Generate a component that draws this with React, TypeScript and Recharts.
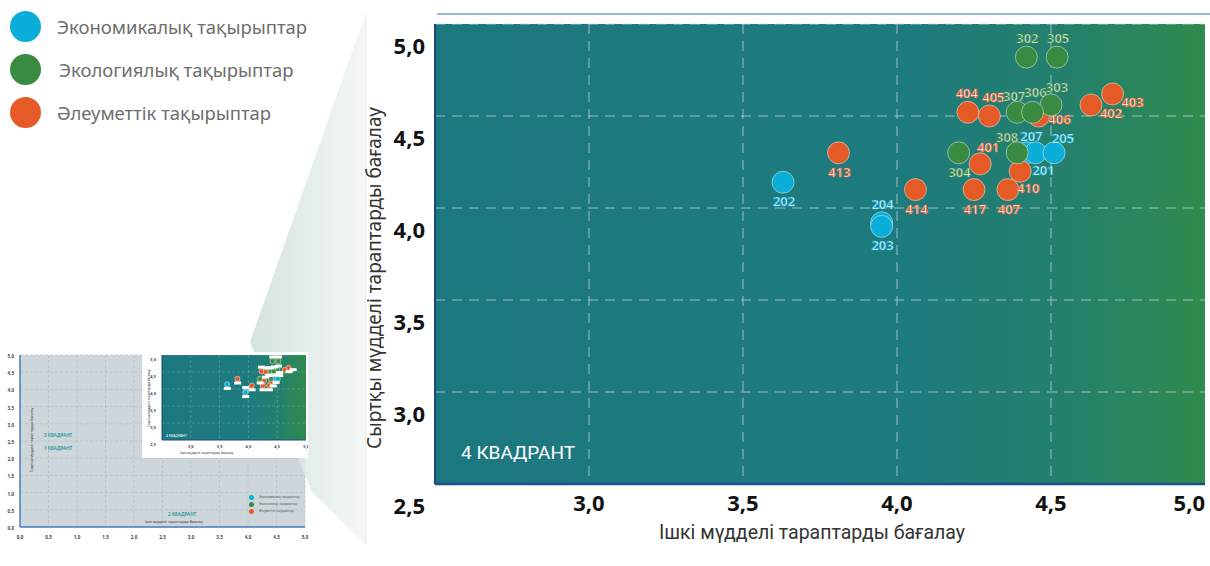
import React from "react";
import { ScatterChart, Scatter, XAxis, YAxis, CartesianGrid } from "recharts";

// Экономикалық тақырыптар
const econIds = ["202", "204", "203", "207", "201", "205"];
const econX = [3.63, 3.95, 3.95, 4.42, 4.45, 4.51];
const econY = [4.14, 3.92, 3.9, 4.3, 4.3, 4.3];

// Экологиялық тақырыптар
const ecoIds = ["302", "305", "303", "307", "306", "304", "308"];
const ecoX = [4.42, 4.52, 4.5, 4.39, 4.44, 4.2, 4.39];
const ecoY = [4.82, 4.82, 4.56, 4.52, 4.52, 4.3, 4.3];

// Әлеуметтік тақырыптар
const socIds = ["403", "402", "404", "405", "406", "413", "414", "401", "410", "417", "407"];
const socX = [4.7, 4.63, 4.23, 4.3, 4.46, 3.81, 4.06, 4.27, 4.4, 4.25, 4.36];
const socY = [4.62, 4.56, 4.52, 4.5, 4.5, 4.3, 4.1, 4.24, 4.2, 4.1, 4.1];

const seriesNames = ["Экономикалық тақырыптар", "Экологиялық тақырыптар", "Әлеуметтік тақырыптар"];
const xTicks = [3, 3.5, 4, 4.5, 5];
const yTicks = [2.5, 3, 3.5, 4, 4.5, 5];
const miniTicks = [0, 0.5, 1, 1.5, 2, 2.5, 3, 3.5, 4, 4.5, 5];

const BLUE = "#0badd9";
const GREEN = "#3a8b42";
const ORANGE = "#e55b28";

// where each point label sits around its marker
const labelSide: Record<string, string> = {
  "302": "above", "305": "above", "303": "aboveFar", "307": "aboveL", "306": "aboveHigh",
  "304": "below", "308": "aboveLeft",
  "202": "below", "204": "above", "203": "below", "207": "aboveR", "201": "belowRight", "205": "aboveRightLow",
  "403": "right", "402": "right", "404": "aboveSlightL", "405": "aboveSlightR", "406": "rightHigh",
  "413": "below", "414": "below", "401": "aboveRight", "410": "belowRight", "417": "below", "407": "below",
};
const sideOffset: Record<string, [number, number]> = {
  above: [1, -19],
  aboveSlightL: [-1, -19],
  aboveSlightR: [4, -19],
  aboveFar: [6, -18],
  aboveL: [-3, -16],
  aboveR: [5, -17],
  aboveHigh: [3, -20],
  below: [1, 19],
  right: [20, 8],
  rightHigh: [21, 3],
  aboveRight: [8, -17],
  aboveRightLow: [9, -15],
  aboveLeft: [-10, -16],
  belowRight: [8, 17],
};

const toPoints = (ids: string[], xs: number[], ys: number[], color: string) =>
  ids.map((id, i) => ({ id, x: xs[i], y: ys[i], color }));

const econ = toPoints(econIds, econX, econY, BLUE);
const eco = toPoints(ecoIds, ecoX, ecoY, GREEN);
const soc = toPoints(socIds, socX, socY, ORANGE);
const allPoints = [...econ, ...soc, ...eco];

const fmt = (v: number) => v.toFixed(1).replace(".", ",");
const FONT = "'Noto Sans', sans-serif";

const Dot = (r: number) => (props: any) => {
  const { cx, cy, payload } = props;
  return <circle cx={cx} cy={cy} r={r} fill={payload.color} stroke="rgba(255,255,255,0.45)" strokeWidth={1} />;
};

const NoDot = () => <g />;

const PointLabel = (props: any) => {
  const { cx, cy, payload } = props;
  const [dx, dy] = sideOffset[labelSide[payload.id] ?? "above"];
  return (
    <text
      x={cx + dx}
      y={cy + dy}
      textAnchor="middle"
      dominantBaseline="central"
      fontSize={13}
      fontWeight={600}
      fontFamily={FONT}
      fill="#fff"
      stroke={payload.color}
      strokeWidth={0.7}
    >
      {payload.id}
    </text>
  );
};

const MiniLabel = (props: any) => {
  const { cx, cy, payload } = props;
  const [dx, dy] = sideOffset[labelSide[payload.id] ?? "above"];
  return <rect x={cx + dx * 0.22 - 3.5} y={cy + dy * 0.22 - 1.5} width={7} height={3} fill="#fff" />;
};

const MainYTick = (props: any) => {
  const { x, y, payload } = props;
  return (
    <text x={x - 2} y={y + 21} textAnchor="end" dominantBaseline="central" fontSize={22} fontWeight={700} fontFamily={FONT} fill="#111">
      {fmt(payload.value)}
    </text>
  );
};

const MainXTick = (props: any) => {
  const { x, y, payload } = props;
  return (
    <text x={x} y={y + 10} textAnchor={payload.value === 5 ? "end" : "middle"} dominantBaseline="central" fontSize={22} fontWeight={700} fontFamily={FONT} fill="#111">
      {fmt(payload.value)}
    </text>
  );
};

const MainYTitle = () => (
  <text x={14} y={278} transform="rotate(-90 14 278)" textAnchor="middle" dominantBaseline="central" fontSize={19} fontFamily={FONT} fill="#333">
    Сыртқы мүдделі тараптарды бағалау
  </text>
);

const MainXTitle = () => (
  <text x={452} y={532} textAnchor="middle" dominantBaseline="central" fontSize={19.5} fontFamily="Roboto, sans-serif" fill="#333">
    Ішкі мүдделі тараптарды бағалау
  </text>
);

const tinyTick = (size: number, dyv: number, anchor: string, dxv: number) => (props: any) => {
  const { x, y, payload } = props;
  return (
    <text x={x + dxv} y={y + dyv} textAnchor={anchor} dominantBaseline="central" fontSize={size} fontWeight={700} fontFamily={FONT} fill="#444">
      {fmt(payload.value)}
    </text>
  );
};

function MainChart() {
  return (
    <ScatterChart width={850} height={566} margin={{ top: 24, right: 5, bottom: 22, left: 25 }}>
      <CartesianGrid
        fill="url(#plotBg)"
        fillOpacity={1}
        stroke="#c9d4d9"
        strokeOpacity={0.75}
        strokeDasharray="10 7"
        horizontalValues={[3, 3.5, 4, 4.5, 5]}
        verticalValues={[3, 3.5, 4, 4.5]}
      />
      <XAxis
        type="number"
        dataKey="x"
        domain={[2.5, 5]}
        ticks={xTicks}
        height={60}
        tick={<MainXTick />}
        tickLine={false}
        axisLine={{ stroke: "#1f4f8a", strokeWidth: 2.5 }}
        label={<MainXTitle />}
      />
      <YAxis
        type="number"
        dataKey="y"
        domain={[2.5, 5]}
        ticks={yTicks}
        width={50}
        tick={<MainYTick />}
        tickLine={false}
        axisLine={{ stroke: "#1b4a7a", strokeWidth: 2 }}
        label={<MainYTitle />}
      />
      <Scatter name={seriesNames[0]} data={econ} shape={Dot(11)} isAnimationActive={false} />
      <Scatter name={seriesNames[2]} data={soc} shape={Dot(11)} isAnimationActive={false} />
      <Scatter name={seriesNames[1]} data={eco} shape={Dot(11)} isAnimationActive={false} />
      <Scatter data={allPoints} shape={PointLabel} isAnimationActive={false} />
    </ScatterChart>
  );
}

function InsetChart() {
  return (
    <ScatterChart width={166} height={106} margin={{ top: 3, right: 2, bottom: 6, left: 6 }}>
      <CartesianGrid
        fill="url(#plotBg)"
        fillOpacity={1}
        stroke="#c9d4d9"
        strokeOpacity={0.5}
        strokeDasharray="3 2"
        strokeWidth={0.5}
        horizontalValues={[3, 3.5, 4, 4.5, 5]}
        verticalValues={[3, 3.5, 4, 4.5]}
      />
      <XAxis type="number" dataKey="x" domain={[2.5, 5]} ticks={xTicks} interval={0} height={12} tick={tinyTick(4, -2, "middle", 0)} tickLine={false} axisLine={{ stroke: "#1f4f8a" }} />
      <YAxis type="number" dataKey="y" domain={[2.5, 5]} ticks={yTicks} interval={0} width={14} tick={tinyTick(4, 4, "end", 2)} tickLine={false} axisLine={{ stroke: "#1b4a7a" }} />
      <Scatter data={econ} shape={Dot(2.6)} isAnimationActive={false} />
      <Scatter data={soc} shape={Dot(2.6)} isAnimationActive={false} />
      <Scatter data={eco} shape={Dot(2.6)} isAnimationActive={false} />
      <Scatter data={allPoints} shape={MiniLabel} isAnimationActive={false} />
    </ScatterChart>
  );
}

function OverviewChart() {
  return (
    <ScatterChart width={310} height={200} margin={{ top: 10, right: 5, bottom: 4, left: 6 }}>
      <CartesianGrid fill="#cdd7db" fillOpacity={1} stroke="#aebbc3" strokeDasharray="3 2" strokeWidth={0.6} />
      <XAxis type="number" dataKey="x" domain={[0, 5]} ticks={miniTicks} interval={0} height={14} tick={tinyTick(4.5, 2, "middle", 0)} tickLine={false} axisLine={{ stroke: "#4a7cc0", strokeWidth: 1.5 }} />
      <YAxis type="number" dataKey="y" domain={[0, 5]} ticks={miniTicks} interval={0} width={14} tick={tinyTick(4.5, 1, "end", 2)} tickLine={false} axisLine={{ stroke: "#4a7cc0", strokeWidth: 1.5 }} />
      <Scatter data={allPoints} shape={NoDot} isAnimationActive={false} />
    </ScatterChart>
  );
}

const legendColors = [BLUE, GREEN, ORANGE];

export default function App() {
  const abs = (left: number, top: number, extra: React.CSSProperties = {}): React.CSSProperties => ({
    position: "absolute",
    left,
    top,
    ...extra,
  });
  return (
    <div style={{ position: "absolute", left: 0, top: 0, width: 1210, height: 566, overflow: "hidden", background: "#fff", fontFamily: FONT }}>
      <svg width={0} height={0} style={{ position: "absolute" }}>
        <defs>
          <linearGradient id="plotBg" x1="0" y1="0" x2="1" y2="0">
            <stop offset="0" stopColor="#1c787f" />
            <stop offset="0.62" stopColor="#1e7b7d" />
            <stop offset="0.82" stopColor="#24806c" />
            <stop offset="1" stopColor="#2f8b4d" />
          </linearGradient>
          <linearGradient id="wedge" x1="0" y1="0" x2="1" y2="0">
            <stop offset="0" stopColor="#cddedb" stopOpacity={0.85} />
            <stop offset="1" stopColor="#f1f6f4" stopOpacity={0.8} />
          </linearGradient>
        </defs>
      </svg>

      {/* legend */}
      {seriesNames.map((n, i) => (
        <div key={n} style={abs(10, 10 + i * 43, { display: "flex", alignItems: "center", height: 32 })}>
          <div style={{ width: 31, height: 31, borderRadius: "50%", background: legendColors[i] }} />
          <span style={{ marginLeft: i === 1 ? 18 : 16, fontSize: 18.5, color: "#6e6e6e", whiteSpace: "nowrap" }}>{n}</span>
        </div>
      ))}

      {/* overview thumbnail */}
      <div style={abs(0, 345)}>
        <OverviewChart />
      </div>
      <div style={abs(44, 432, { fontSize: 4.5, fontWeight: 700, color: "#3a9aa0", whiteSpace: "nowrap" })}>3 КВАДРАНТ</div>
      <div style={abs(44, 445, { fontSize: 4.5, fontWeight: 700, color: "#3a9aa0", whiteSpace: "nowrap" })}>1 КВАДРАНТ</div>
      <div style={abs(168, 511, { fontSize: 4.5, fontWeight: 700, color: "#3a9aa0", whiteSpace: "nowrap" })}>2 КВАДРАНТ</div>
      <div style={abs(145, 519, { fontSize: 3.6, color: "#333", whiteSpace: "nowrap" })}>Ішкі мүдделі тараптарды бағалау</div>
      <div style={abs(31, 440, { fontSize: 3.6, color: "#333", whiteSpace: "nowrap", transform: "translate(-50%,-50%) rotate(-90deg)" })}>
        Сыртқы мүдделі тараптарды бағалау
      </div>
      {seriesNames.map((n, i) => (
        <div key={"m" + n} style={abs(249, 494 + i * 7, { display: "flex", alignItems: "center", height: 6 })}>
          <div style={{ width: 5, height: 5, borderRadius: "50%", background: legendColors[i] }} />
          <span style={{ marginLeft: 5, fontSize: 3, color: "#555", whiteSpace: "nowrap" }}>{n}</span>
        </div>
      ))}

      {/* zoom wedge */}
      <svg width={1210} height={566} style={abs(0, 0, { pointerEvents: "none" })}>
        <polygon points="366,12 250,342 312,492 366,545" fill="url(#wedge)" />
        <line x1={366} y1={14} x2={366} y2={545} stroke="#e8efee" strokeWidth={1} />
      </svg>

      {/* inset */}
      <div style={abs(142, 352, { width: 166, height: 106, background: "#fff" })}>
        <InsetChart />
      </div>
      <div style={abs(166, 433, { fontSize: 3.5, color: "#fff", whiteSpace: "nowrap" })}>4 КВАДРАНТ</div>
      <div style={abs(180, 450, { fontSize: 3.3, color: "#333", whiteSpace: "nowrap" })}>Ішкі мүдделі тараптарды бағалау</div>
      <div style={abs(149, 398, { fontSize: 3.2, color: "#333", whiteSpace: "nowrap", transform: "translate(-50%,-50%) rotate(-90deg)" })}>
        Сыртқы мүдделі тараптарды бағалау
      </div>

      {/* main chart */}
      <div style={abs(437, 13, { width: 773, height: 2, background: "#9ab6d6" })} />
      <div style={abs(360, 0)}>
        <MainChart />
      </div>
      <div style={abs(461, 441, { fontSize: 19, color: "#fff", fontFamily: "Roboto, sans-serif", whiteSpace: "nowrap" })}>4 КВАДРАНТ</div>
    </div>
  );
}
